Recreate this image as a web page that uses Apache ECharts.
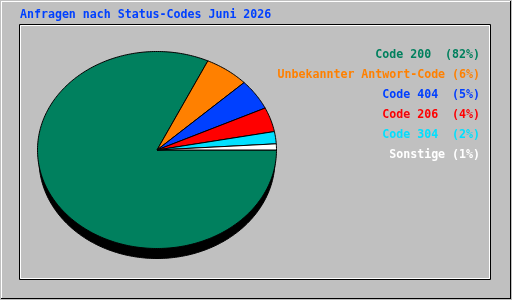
<!DOCTYPE html>
<html>
<head>
<meta charset="utf-8">
<script src="https://cdn.jsdelivr.net/npm/echarts@6/dist/echarts.min.js"></script>
<style>html,body{margin:0;padding:0;background:#c0c0c0;}#c{width:512px;height:300px;}</style>
</head>
<body>
<div id="c"></div>
<script>
var titleText = 'Anfragen nach Status-Codes Juni 2026';
var categories = ['Code 200', 'Unbekannter Antwort-Code', 'Code 404', 'Code 206', 'Code 304', 'Sonstige'];
var values = [82, 6, 5, 4, 2, 1];
var pctLabels = ['(82%)', '(6%)', '(5%)', '(4%)', '(2%)', '(1%)'];
var separators = ['  ', ' ', '  ', '  ', '  ', ' '];
var colors = ['#00805e', '#ff8000', '#0040ff', '#ff0000', '#00e0ff', '#ffffff'];

var CX = 157, CY = 150, RX = 119.5, RY = 98.5, DEPTH = 10;
var total = values.reduce(function (a, b) { return a + b; }, 0);

function arcPoints(cx, cy, rx, ry, a0, a1, withCenter) {
  var pts = [];
  if (withCenter) pts.push([cx, cy]);
  var n = Math.max(2, Math.ceil(Math.abs(a1 - a0) / (Math.PI / 180)));
  for (var k = 0; k <= n; k++) {
    var a = a0 + (a1 - a0) * k / n;
    pts.push([cx + rx * Math.cos(a), cy + ry * Math.sin(a)]);
  }
  return pts;
}

var chart = echarts.init(document.getElementById('c'), null, {renderer: 'canvas'});

var FONT = 'bold 11.6px "DejaVu Sans Mono"';
var graphics = [
  {type: 'rect', shape: {x: 1, y: 1, width: 510, height: 1}, style: {fill: '#ffffff'}, silent: true},
  {type: 'rect', shape: {x: 1, y: 1, width: 1, height: 297}, style: {fill: '#ffffff'}, silent: true},
  {type: 'rect', shape: {x: 1, y: 298, width: 510, height: 1}, style: {fill: '#000000'}, silent: true},
  {type: 'rect', shape: {x: 510, y: 1, width: 1, height: 298}, style: {fill: '#000000'}, silent: true},
  {type: 'rect', shape: {x: 19.5, y: 24.5, width: 471, height: 255}, style: {fill: null, stroke: '#000000', lineWidth: 1}, silent: true},
  {type: 'rect', shape: {x: 20.5, y: 25.5, width: 469, height: 253}, style: {fill: null, stroke: '#ffffff', lineWidth: 1}, silent: true},
  {type: 'text', x: 20, y: 9, style: {text: titleText, fill: '#0040ff', font: FONT, align: 'left', verticalAlign: 'top'}, silent: true}
];
categories.forEach(function (name, i) {
  graphics.push({
    type: 'text', x: 480, y: 49 + i * 20,
    style: {
      text: name + separators[i] + pctLabels[i],
      fill: colors[i],
      font: FONT,
      align: 'right', verticalAlign: 'top',
      textShadowColor: '#000000', textShadowOffsetX: 1, textShadowOffsetY: 1, textShadowBlur: 0,
      shadowColor: '#000000', shadowOffsetX: 1, shadowOffsetY: 1, shadowBlur: 0
    },
    silent: true
  });
});

chart.setOption({
  backgroundColor: '#c0c0c0',
  animation: false,
  graphic: graphics,
  series: [
    {
      type: 'custom',
      coordinateSystem: 'none',
      z: 1,
      silent: true,
      data: [total],
      renderItem: function (params, api) {
        return {
          type: 'polygon',
          shape: {points: arcPoints(CX, CY + DEPTH, RX - 1.5, RY, 0, Math.PI * 2, false)},
          style: {fill: '#000000', stroke: '#000000', lineWidth: 1}
        };
      }
    },
    {
      type: 'custom',
      coordinateSystem: 'none',
      z: 2,
      silent: true,
      data: values.map(function (v, i) { return {name: categories[i], value: v}; }),
      renderItem: function (params, api) {
        var i = params.dataIndex;
        var cum = 0;
        for (var k = 0; k < i; k++) cum += values[k];
        var v = api.value(0);
        var a0 = cum / total * Math.PI * 2;
        var a1 = (cum + v) / total * Math.PI * 2;
        return {
          type: 'polygon',
          shape: {points: arcPoints(CX, CY, RX, RY, a0, a1, true)},
          style: {fill: colors[i], stroke: '#000000', lineWidth: 1, lineJoin: 'miter'}
        };
      }
    }
  ]
});
</script>
</body>
</html>
